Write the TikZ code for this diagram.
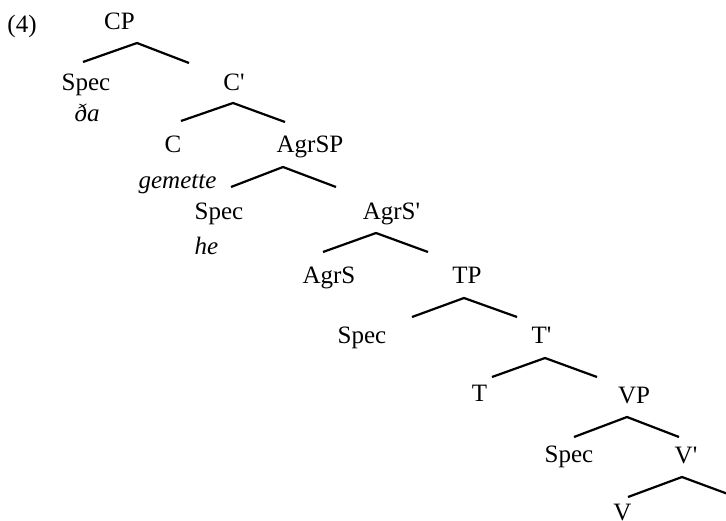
\documentclass[tikz,border=0pt]{standalone}
\usepackage{fontspec}
\setmainfont{Liberation Serif}
\begin{document}
\begin{tikzpicture}[x=1bp,y=-1bp,
  lbl/.style={inner sep=0pt, anchor=base, font=\fontsize{25bp}{30bp}\selectfont},
  wrd/.style={inner sep=0pt, anchor=base, font=\fontsize{25bp}{30bp}\selectfont\itshape},
  branch/.style={line width=2.2bp, line cap=butt, line join=miter}]
\useasboundingbox (0,0) rectangle (726,521);
\clip (0,0) rectangle (726,521);
% labels
\node[lbl] (ex) at (22,33) {(4)};
\node[lbl] (cp) at (119.5,30) {CP};
\node[lbl] (spec1) at (86,91) {Spec};
\node[wrd] (da) at (87,122) {ða};
\node[lbl] (cbar) at (234,91) {C\textquotesingle};
\node[lbl] (c) at (173,152.5) {C};
\node[wrd] (gem) at (177.5,189) {gemette};
\node[lbl] (agrsp) at (310,152.5) {AgrSP};
\node[lbl] (spec2) at (219,219.5) {Spec};
\node[wrd] (he) at (206.5,255) {he};
\node[lbl] (agrsbar) at (391.5,219.5) {AgrS\textquotesingle};
\node[lbl] (agrs) at (329,283.5) {AgrS};
\node[lbl] (tp) at (467,284) {TP};
\node[lbl] (spec3) at (362,343.5) {Spec};
\node[lbl] (tbar) at (541.5,343.5) {T\textquotesingle};
\node[lbl] (t) at (479.5,401.5) {T};
\node[lbl] (vp) at (634,403) {VP};
\node[lbl] (spec4) at (569,462) {Spec};
\node[lbl] (vbar) at (686,463) {V\textquotesingle};
\node[lbl] (v) at (622.5,520) {V};
% branch points
\coordinate (a1) at (137,43);  \coordinate (l1) at (83,62);  \coordinate (r1) at (189,63);
\coordinate (a2) at (233,103); \coordinate (l2) at (181,121); \coordinate (r2) at (285,122);
\coordinate (a3) at (283,167); \coordinate (l3) at (231,187); \coordinate (r3) at (336,187);
\coordinate (a4) at (376,233); \coordinate (l4) at (323,252); \coordinate (r4) at (428,252);
\coordinate (a5) at (464,298); \coordinate (l5) at (412,317); \coordinate (r5) at (517,317);
\coordinate (a6) at (545,358); \coordinate (l6) at (492,377); \coordinate (r6) at (597,377);
\coordinate (a7) at (627,417); \coordinate (l7) at (574,437); \coordinate (r7) at (679,437);
\coordinate (a8) at (682,477); \coordinate (l8) at (628,497); \coordinate (r8) at (736,497);
\foreach \i in {1,...,8} {\draw[branch] (l\i) -- (a\i) -- (r\i);}
\end{tikzpicture}
\end{document}
